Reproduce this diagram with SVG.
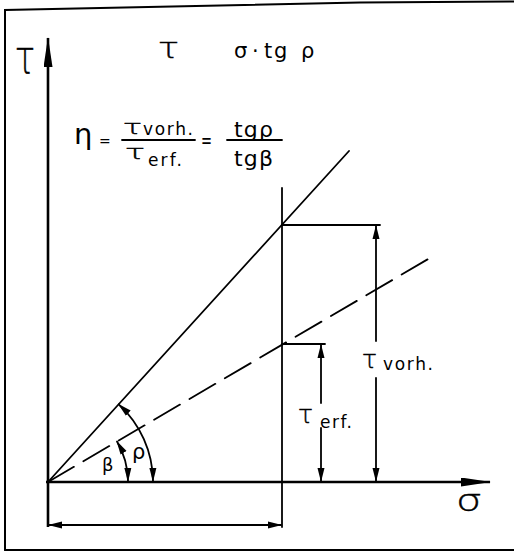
<svg xmlns="http://www.w3.org/2000/svg" width="514" height="553" viewBox="0 0 514 553">
<style>
.ln{stroke:#000;stroke-width:1.8;fill:none;stroke-linecap:round}
.ax{stroke:#000;stroke-width:2.6;fill:none}
.t{font-family:"DejaVu Sans","Liberation Sans",sans-serif;fill:#000}
.tau{font-family:"DejaVu Sans","Liberation Sans",sans-serif;font-weight:200;fill:#000;stroke:#000;stroke-width:0.45}
</style>
<defs>
<marker id="ah" viewBox="0 0 14 8" refX="13" refY="4" markerWidth="14" markerHeight="8" markerUnits="userSpaceOnUse" orient="auto-start-reverse">
<path d="M0,0.5 L14,4 L0,7.5 Z" fill="#000"/>
</marker>
<marker id="big" viewBox="0 0 30 9" refX="29" refY="4.5" markerWidth="30" markerHeight="9" markerUnits="userSpaceOnUse" orient="auto">
<path d="M0,0 L30,4.5 L0,9 Z" fill="#000"/>
</marker>
</defs>
<rect width="514" height="553" fill="#fff"/>
<g id="frame">
<polyline class="ln" points="5,550 5,10 360,2.5 514,1.5" style="stroke-width:2"/>
<line class="ln" x1="5" y1="550" x2="514" y2="550" style="stroke-width:2"/>
</g>
<g id="connectors">
<line class="ax" x1="48" y1="527" x2="48" y2="38" marker-end="url(#big)"/>
<line class="ax" x1="46" y1="482" x2="490" y2="482" marker-end="url(#big)"/>
<line class="ln" x1="48" y1="482" x2="349" y2="151"/>
<line class="ln" x1="48" y1="482" x2="435" y2="255" stroke-dasharray="30 11"/>
<line class="ln" x1="282" y1="188" x2="282" y2="527"/>
<line class="ln" x1="282" y1="225" x2="380" y2="225"/>
<line class="ln" x1="282" y1="344" x2="325" y2="344"/>
<line class="ln" x1="376" y1="341" x2="376" y2="226" marker-end="url(#ah)"/>
<line class="ln" x1="376" y1="378" x2="376" y2="481" marker-end="url(#ah)"/>
<line class="ln" x1="321" y1="403" x2="321" y2="345" marker-end="url(#ah)"/>
<line class="ln" x1="321" y1="428" x2="321" y2="481" marker-end="url(#ah)"/>
<line class="ln" x1="49" y1="525" x2="281" y2="525" marker-start="url(#ah)" marker-end="url(#ah)"/>
<path class="ln" d="M118.7,404.3 A105,105 0 0 1 153,481" marker-start="url(#ah)" marker-end="url(#ah)"/>
<path class="ln" d="M117,441.5 A80,80 0 0 1 128,481" marker-start="url(#ah)" marker-end="url(#ah)"/>
</g>
<g id="labels">
<text class="tau" x="15" y="73" font-size="47" textLength="20" lengthAdjust="spacingAndGlyphs">τ</text>
<text class="tau" x="158" y="58" font-size="28" textLength="21" lengthAdjust="spacingAndGlyphs">τ</text>
<text class="t" x="234 252 264 274 290 301" y="58" font-size="21">σ·tg ρ</text>
<text class="t" x="74" y="144" font-size="29">η</text>
<text class="t" x="99" y="146" font-size="14">=</text>
<text class="tau" x="123" y="134" font-size="20" textLength="19" lengthAdjust="spacingAndGlyphs">τ</text>
<text class="t" x="143" y="135" font-size="17" textLength="50" lengthAdjust="spacing">vorh.</text>
<line class="ln" x1="122" y1="140" x2="195" y2="140"/>
<text class="tau" x="125" y="159" font-size="20" textLength="20" lengthAdjust="spacingAndGlyphs">τ</text>
<text class="t" x="148" y="166" font-size="17" textLength="34" lengthAdjust="spacing">erf.</text>
<text class="t" x="201" y="148" font-size="21" textLength="11" lengthAdjust="spacingAndGlyphs">=</text>
<text class="t" x="234" y="137" font-size="22" textLength="39" lengthAdjust="spacing">tgρ</text>
<line class="ln" x1="227" y1="140" x2="282" y2="140"/>
<text class="t" x="234" y="166" font-size="22" textLength="39" lengthAdjust="spacing">tgβ</text>
<text class="tau" x="362" y="368" font-size="24" textLength="15" lengthAdjust="spacingAndGlyphs">τ</text>
<text class="t" x="383" y="370" font-size="17" textLength="50" lengthAdjust="spacing">vorh.</text>
<text class="tau" x="298" y="423" font-size="24" textLength="15" lengthAdjust="spacingAndGlyphs">τ</text>
<text class="t" x="320" y="428" font-size="17" textLength="32" lengthAdjust="spacing">erf.</text>
<text class="t" x="102" y="471" font-size="18">β</text>
<text class="t" x="132" y="459" font-size="21">ρ</text>
<text class="tau" x="456" y="511" font-size="31" textLength="26" lengthAdjust="spacingAndGlyphs">σ</text>
</g>
</svg>
